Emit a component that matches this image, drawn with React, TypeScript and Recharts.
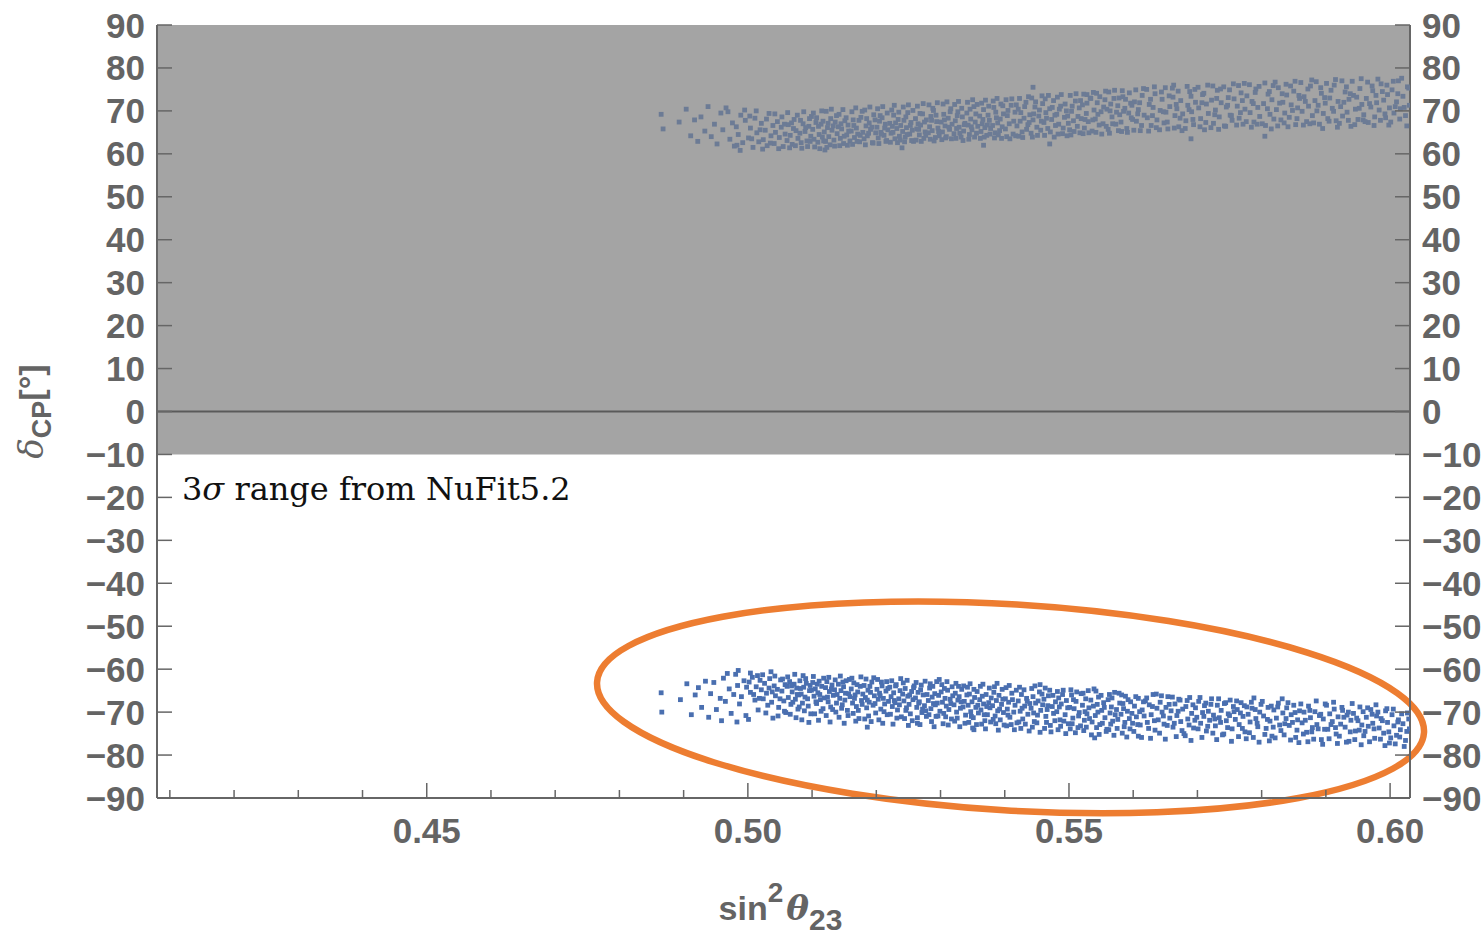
import React from 'react';
import { ScatterChart, Scatter, XAxis, YAxis, ReferenceArea, ReferenceLine } from 'recharts';

// ---------- axis ticks ----------
const xTicks = [0.41, 0.42, 0.43, 0.44, 0.45, 0.46, 0.47, 0.48, 0.49, 0.5, 0.51, 0.52, 0.53, 0.54, 0.55, 0.56, 0.57, 0.58, 0.59, 0.6];
const xLabelTicks = [0.45, 0.5, 0.55, 0.6];
const yTicks = [-90, -80, -70, -60, -50, -40, -30, -20, -10, 0, 10, 20, 30, 40, 50, 60, 70, 80, 90];
const xDomain = [0.408, 0.6031];
const yDomain = [-90, 90];

// 3-sigma excluded band (shaded) and annotation text
const shadedFrom = -10;
const shadedTo = 90;
const annotationText = 'range from NuFit5.2';

// highlight ellipse (data units)
const ellipseCenterX = 0.5409;
const ellipseCenterY = -68.9;
const ellipseHalfX = 0.0645;
const ellipseHalfY = 24.0;
const ellipseTilt = 3.5;

// ---------- scatter points: [sin^2 theta23, deltaCP] ----------
const lowerPoints = [
[.4865,-65.5],[.4866,-70.0],[.4895,-67.1],
[.4905,-63.4],[.4912,-70.6],[.4918,-66.0],
[.4923,-64.3],[.4928,-68.9],[.4934,-62.8],[.4939,-71.2],
[.4942,-65.7],[.4947,-63.1],[.4951,-69.4],[.4957,-66.8],[.4959,-72.0],
[.4962,-62.1],[.4965,-67.5],[.4971,-64.6],[.4974,-70.3],[.4978,-65.9],
[.4981,-61.2],[.4984,-63.8],[.4987,-68.1],[.4990,-66.4],[.4994,-62.7],[.4997,-70.8],[.4985,-60.3],
[.5002,-63.0],[.5004,-65.4],[.5007,-61.9],[.5011,-67.2],[.5013,-64.1],[.5016,-69.5],[.5019,-62.6],[.5004,-60.9],
[.5021,-64.8],[.5024,-66.9],[.5026,-63.3],[.5029,-65.6],[.5031,-68.4],[.5034,-62.2],[.5037,-67.7],[.5039,-71.4],
[.5041,-63.9],[.5043,-66.2],[.5046,-64.7],[.5048,-68.9],[.5051,-62.5],[.5053,-65.1],[.5056,-67.4],[.5058,-63.6],[.5059,-70.1],
[.5061,-64.0],[.5063,-66.6],[.5065,-62.9],[.5067,-68.2],[.5069,-65.3],[.5072,-63.5],[.5074,-67.0],[.5076,-64.4],[.5078,-69.3],[.5079,-66.0],
[.5081,-62.7],[.5083,-65.8],[.5085,-67.9],[.5087,-64.2],[.5089,-66.5],[.5091,-63.3],[.5094,-68.6],[.5096,-65.0],[.5098,-70.4],[.5099,-64.9],
[.5101,-63.1],[.5103,-66.3],[.5105,-64.6],[.5107,-68.0],[.5109,-65.5],[.5111,-62.8],[.5113,-67.1],[.5115,-64.0],[.5117,-69.2],[.5119,-66.7],
[.5121,-64.3],[.5123,-62.9],[.5125,-67.6],[.5127,-65.2],[.5129,-68.8],[.5131,-63.7],[.5133,-66.1],[.5135,-64.8],[.5137,-70.0],[.5139,-65.9],
[.5141,-63.5],[.5143,-66.8],[.5145,-65.0],[.5147,-68.3],[.5149,-64.1],[.5151,-67.2],[.5153,-62.7],[.5155,-69.6],[.5157,-65.7],[.5159,-66.4],
[.5161,-64.6],[.5163,-67.9],[.5165,-63.2],[.5167,-66.0],[.5169,-68.7],[.5171,-65.3],[.5173,-71.5],[.5175,-64.0],[.5177,-67.3],[.5179,-65.8],
[.5181,-63.8],[.5183,-66.6],[.5185,-69.0],[.5187,-64.9],[.5189,-67.7],[.5191,-65.4],[.5193,-63.0],[.5195,-68.4],[.5197,-66.2],[.5199,-70.2],[.5186,-73.5],
[.5201,-64.7],[.5203,-67.0],[.5205,-65.6],[.5207,-69.3],[.5209,-63.9],[.5211,-66.8],[.5213,-68.1],[.5215,-65.1],[.5217,-70.6],[.5219,-67.5],
[.5221,-64.2],[.5223,-66.4],[.5225,-68.7],[.5227,-65.5],[.5229,-67.8],[.5231,-63.6],[.5233,-69.5],[.5235,-66.9],[.5237,-65.0],[.5239,-71.1],
[.5241,-65.8],[.5243,-67.4],[.5245,-64.5],[.5247,-69.0],[.5249,-66.3],[.5251,-68.2],[.5253,-70.4],[.5255,-65.2],[.5257,-67.1],[.5259,-63.9],
[.5261,-66.7],[.5263,-68.9],[.5265,-65.4],[.5267,-67.6],[.5269,-64.8],[.5271,-70.1],[.5273,-66.0],[.5275,-68.5],[.5277,-69.7],[.5279,-65.9],[.5264,-72.6],
[.5281,-67.3],[.5283,-64.4],[.5285,-69.2],[.5287,-66.5],[.5289,-68.0],[.5291,-65.7],[.5293,-71.0],[.5295,-67.9],[.5297,-66.1],[.5299,-69.8],[.5298,-62.4],
[.5301,-65.3],[.5303,-67.7],[.5305,-70.3],[.5307,-66.8],[.5309,-68.6],[.5311,-64.9],[.5313,-69.4],[.5315,-67.0],[.5317,-71.6],[.5319,-66.2],
[.5321,-68.3],[.5323,-65.6],[.5325,-70.0],[.5327,-67.2],[.5329,-66.4],[.5331,-69.1],[.5333,-64.7],[.5335,-68.8],[.5337,-67.5],[.5339,-70.7],
[.5341,-66.0],[.5343,-68.4],[.5345,-65.8],[.5347,-69.9],[.5349,-67.6],[.5351,-71.3],[.5353,-66.6],[.5355,-68.9],[.5357,-65.2],[.5359,-70.2],[.5352,-74.1],
[.5361,-67.1],[.5363,-69.5],[.5365,-66.3],[.5367,-68.1],[.5369,-72.0],[.5371,-65.9],[.5373,-70.6],[.5375,-67.8],[.5377,-69.0],[.5379,-66.7],
[.5381,-68.5],[.5383,-65.4],[.5385,-70.9],[.5387,-67.3],[.5389,-69.7],[.5391,-66.1],[.5393,-71.8],[.5395,-68.2],[.5397,-67.0],[.5399,-73.0],
[.5401,-66.9],[.5404,-69.3],[.5406,-67.7],[.5408,-71.2],[.5411,-65.6],[.5414,-70.0],[.5416,-68.4],[.5419,-72.5],
[.5421,-67.4],[.5424,-69.8],[.5426,-65.9],[.5428,-71.6],[.5431,-68.6],[.5434,-66.8],[.5436,-70.5],[.5439,-68.0],
[.5441,-69.1],[.5444,-66.4],[.5446,-72.2],[.5448,-67.9],[.5451,-70.7],[.5454,-65.3],[.5456,-69.6],[.5459,-68.3],[.5455,-63.6],
[.5461,-67.0],[.5464,-71.0],[.5466,-69.4],[.5468,-66.2],[.5471,-73.1],[.5474,-68.7],[.5476,-70.3],[.5479,-67.6],
[.5481,-69.9],[.5484,-66.7],[.5486,-71.8],[.5488,-68.1],[.5491,-64.9],[.5494,-70.6],[.5496,-67.3],[.5499,-72.7],
[.5501,-68.9],[.5504,-66.0],[.5506,-71.4],[.5508,-69.2],[.5511,-67.5],[.5514,-73.6],[.5516,-70.1],[.5519,-65.7],
[.5521,-68.4],[.5524,-71.9],[.5526,-66.9],[.5528,-70.4],[.5531,-69.0],[.5534,-67.2],[.5536,-72.3],[.5539,-64.6],
[.5541,-70.8],[.5544,-68.2],[.5546,-66.5],[.5548,-72.9],[.5551,-69.6],[.5554,-67.8],[.5556,-71.3],[.5559,-74.0],[.5540,-76.0],
[.5561,-67.1],[.5564,-70.2],[.5566,-68.8],[.5568,-72.1],[.5571,-65.4],[.5574,-69.4],[.5576,-71.7],[.5579,-67.9],
[.5581,-70.5],[.5584,-68.0],[.5586,-73.4],[.5588,-66.3],[.5591,-69.8],[.5594,-71.5],[.5596,-67.6],[.5599,-72.6],
[.5602,-68.6],[.5605,-71.1],[.5608,-66.8],[.5611,-73.0],[.5614,-69.5],[.5617,-70.9],[.5619,-67.4],[.5608,-75.6],
[.5622,-72.4],[.5625,-68.3],[.5628,-70.6],[.5631,-65.9],[.5634,-74.2],[.5637,-69.1],[.5639,-71.8],
[.5642,-67.7],[.5645,-70.0],[.5648,-72.8],[.5651,-68.9],[.5654,-66.4],[.5657,-71.4],[.5659,-69.7],
[.5662,-73.5],[.5665,-68.1],[.5668,-70.8],[.5671,-67.0],[.5674,-72.2],[.5677,-69.3],[.5679,-75.0],
[.5682,-68.7],[.5685,-71.6],[.5688,-66.6],[.5691,-70.3],[.5694,-73.7],[.5697,-69.0],[.5699,-71.2],
[.5702,-67.5],[.5705,-72.6],[.5708,-70.1],[.5711,-68.5],[.5714,-74.4],[.5717,-69.8],[.5719,-71.9],
[.5722,-66.9],[.5725,-70.7],[.5728,-73.2],[.5731,-68.4],[.5734,-71.3],[.5737,-69.6],[.5739,-75.3],
[.5742,-68.0],[.5745,-72.0],[.5748,-70.4],[.5751,-67.2],[.5754,-73.9],[.5757,-69.9],[.5759,-71.7],
[.5762,-69.4],[.5765,-72.9],[.5768,-67.8],[.5771,-71.0],[.5774,-74.6],[.5777,-68.8],[.5779,-70.5],
[.5782,-72.3],[.5785,-69.1],[.5788,-66.7],[.5791,-71.5],[.5794,-73.4],[.5797,-70.0],[.5799,-68.2],
[.5803,-70.9],[.5807,-73.8],[.5810,-68.9],[.5813,-72.1],[.5816,-75.6],[.5819,-69.5],
[.5823,-71.4],[.5826,-67.9],[.5830,-74.3],[.5833,-70.2],[.5836,-72.7],[.5839,-69.0],
[.5843,-73.1],[.5846,-70.6],[.5850,-68.4],[.5853,-75.9],[.5856,-71.8],[.5859,-69.7],
[.5863,-72.5],[.5866,-70.0],[.5870,-74.7],[.5873,-68.6],[.5876,-71.3],[.5879,-73.6],
[.5883,-69.9],[.5886,-72.9],[.5890,-70.8],[.5893,-76.4],[.5896,-71.6],[.5899,-68.1],
[.5903,-74.0],[.5906,-70.4],[.5910,-72.2],[.5913,-69.3],[.5916,-75.1],[.5919,-71.1],
[.5923,-72.8],[.5926,-69.6],[.5930,-73.5],[.5933,-70.7],[.5936,-76.8],[.5939,-71.9],
[.5943,-70.3],[.5946,-74.4],[.5950,-72.0],[.5953,-68.8],[.5956,-73.0],[.5959,-75.5],
[.5963,-71.2],[.5966,-73.3],[.5970,-69.4],[.5973,-72.6],[.5976,-76.1],[.5979,-70.9],
[.5983,-73.7],[.5986,-71.5],[.5990,-74.9],[.5993,-69.7],[.5996,-72.4],[.5999,-77.2],
[.6003,-70.6],[.6006,-73.2],[.6010,-75.4],[.6013,-71.8],[.6016,-74.1],[.6020,-72.7],[.6024,-76.6],[.6027,-70.2],[.6030,-73.9]
];

const lowerFill = [
[.4968,-61.0],[.4983,-72.3],[.4998,-64.2],[.5001,-71.7],[.5009,-65.9],[.5015,-61.5],[.5018,-66.8],[.5023,-61.3],[.5028,-70.2],[.5033,-64.4],[.5036,-60.6],[.5038,-65.3],
[.5042,-61.6],[.5047,-70.9],[.5050,-66.9],[.5054,-62.3],[.5057,-69.8],
[.5062,-61.8],[.5066,-70.5],[.5068,-63.9],[.5070,-67.7],[.5073,-61.2],[.5075,-71.3],[.5077,-65.9],[.5080,-68.8],
[.5082,-64.5],[.5084,-71.8],[.5086,-61.5],[.5088,-69.7],[.5090,-62.2],[.5093,-66.9],[.5095,-72.4],[.5097,-63.8],
[.5102,-61.7],[.5104,-70.4],[.5106,-67.6],[.5108,-63.5],[.5110,-71.9],[.5112,-65.9],[.5114,-69.8],[.5118,-62.1],
[.5122,-70.8],[.5124,-66.5],[.5126,-61.9],[.5128,-72.3],[.5130,-64.6],[.5132,-69.4],[.5136,-62.5],[.5138,-67.9],
[.5142,-71.2],[.5144,-61.6],[.5146,-69.1],[.5148,-63.0],[.5150,-72.6],[.5152,-65.6],[.5156,-70.8],[.5158,-62.4],
[.5162,-62.1],[.5164,-70.3],[.5166,-66.8],[.5168,-72.1],[.5170,-63.6],[.5172,-69.6],[.5176,-61.8],[.5178,-68.2],
[.5182,-71.6],[.5184,-62.3],[.5186,-67.2],[.5188,-70.9],[.5190,-64.0],[.5192,-72.2],[.5196,-62.0],[.5198,-68.0],
[.5202,-62.4],[.5204,-71.8],[.5206,-66.2],[.5208,-63.0],[.5210,-72.6],[.5212,-69.9],[.5216,-62.9],[.5218,-64.5],
[.5222,-70.5],[.5224,-62.7],[.5226,-72.8],[.5228,-67.3],[.5230,-63.9],[.5232,-71.4],[.5236,-68.3],[.5238,-62.2],
[.5242,-63.2],[.5244,-71.5],[.5246,-69.6],[.5248,-62.6],[.5250,-73.1],[.5252,-66.0],[.5256,-72.0],[.5258,-64.3],
[.5262,-63.1],[.5264,-71.3],[.5266,-67.9],[.5268,-72.9],[.5270,-63.7],[.5272,-69.3],[.5276,-62.8],[.5278,-71.0],
[.5282,-70.6],[.5284,-63.4],[.5286,-72.2],[.5288,-64.0],[.5290,-73.4],[.5292,-68.3],[.5294,-62.9],[.5296,-70.9],
[.5302,-63.6],[.5304,-72.7],[.5306,-64.5],[.5308,-71.1],[.5310,-62.9],[.5312,-73.0],[.5316,-68.0],[.5318,-64.1],
[.5322,-72.1],[.5324,-63.3],[.5326,-71.4],[.5328,-64.0],[.5330,-73.4],[.5332,-67.6],[.5336,-63.9],[.5338,-72.6],
[.5342,-64.2],[.5344,-72.4],[.5346,-63.4],[.5348,-71.0],[.5350,-73.7],[.5352,-64.7],[.5356,-72.9],[.5358,-68.4],
[.5362,-64.0],[.5364,-72.8],[.5366,-63.5],[.5368,-70.6],[.5370,-73.9],[.5372,-68.7],[.5376,-64.4],[.5378,-72.3],
[.5382,-71.7],[.5384,-64.1],[.5386,-72.7],[.5388,-63.3],[.5390,-74.2],[.5392,-69.3],[.5396,-64.7],[.5398,-70.1],
[.5402,-64.3],[.5403,-73.2],[.5405,-70.7],[.5407,-63.8],[.5410,-72.9],[.5412,-67.1],[.5415,-74.1],[.5418,-64.9],
[.5422,-72.3],[.5423,-64.2],[.5425,-73.8],[.5427,-69.1],[.5430,-64.8],[.5432,-72.8],[.5435,-67.5],[.5438,-74.4],
[.5442,-64.5],[.5443,-73.5],[.5445,-70.2],[.5447,-63.9],[.5450,-72.5],[.5452,-67.4],[.5455,-74.7],[.5458,-65.8],
[.5462,-73.8],[.5463,-64.4],[.5465,-72.4],[.5467,-68.5],[.5470,-64.9],[.5472,-74.6],[.5475,-66.1],[.5478,-72.0],
[.5482,-65.2],[.5483,-74.1],[.5485,-68.8],[.5487,-73.3],[.5490,-65.9],[.5492,-72.1],[.5495,-75.0],[.5498,-69.0],
[.5502,-73.9],[.5503,-64.8],[.5505,-72.7],[.5507,-67.1],[.5510,-74.8],[.5512,-65.3],[.5515,-70.9],[.5518,-73.2],
[.5522,-65.6],[.5523,-74.3],[.5525,-69.9],[.5527,-73.5],[.5530,-65.0],[.5532,-71.5],[.5535,-75.3],[.5538,-68.6],
[.5542,-65.1],[.5543,-73.6],[.5545,-70.0],[.5547,-75.2],[.5550,-66.1],[.5552,-72.6],[.5555,-68.9],[.5558,-74.5],
[.5562,-74.1],[.5563,-65.9],[.5565,-72.8],[.5567,-66.7],[.5570,-75.4],[.5572,-70.6],[.5575,-73.8],[.5578,-65.6],
[.5582,-66.0],[.5583,-74.9],[.5585,-69.2],[.5587,-72.4],[.5590,-75.8],[.5592,-67.1],[.5595,-73.9],[.5598,-70.3],
[.5601,-74.5],[.5604,-66.4],[.5607,-72.9],[.5610,-69.9],[.5613,-75.9],[.5616,-67.6],
[.5621,-66.7],[.5624,-73.8],[.5627,-76.1],[.5630,-68.7],[.5633,-72.0],[.5636,-65.8],
[.5641,-74.9],[.5644,-66.2],[.5647,-70.9],[.5650,-76.3],[.5653,-73.1],[.5656,-68.2],
[.5661,-66.5],[.5664,-72.6],[.5667,-75.7],[.5670,-69.8],[.5673,-67.2],[.5676,-74.3],
[.5681,-75.5],[.5684,-67.3],[.5687,-73.0],[.5690,-76.6],[.5693,-68.3],[.5696,-71.9],
[.5701,-73.9],[.5704,-66.6],[.5707,-75.9],[.5710,-71.0],[.5713,-67.9],[.5716,-73.3],
[.5721,-68.2],[.5724,-74.9],[.5727,-71.6],[.5730,-76.4],[.5733,-66.9],[.5736,-72.4],
[.5741,-75.1],[.5744,-67.8],[.5747,-73.6],[.5750,-70.8],[.5753,-76.8],[.5756,-68.7],
[.5761,-67.4],[.5764,-75.7],[.5767,-70.2],[.5770,-73.8],[.5773,-68.5],[.5776,-76.2],
[.5781,-74.8],[.5784,-67.7],[.5787,-75.9],[.5790,-69.4],[.5793,-72.6],[.5796,-77.0],
[.5801,-67.5],[.5805,-75.2],[.5809,-71.7],[.5812,-76.7],[.5815,-68.6],[.5818,-73.5],
[.5821,-76.0],[.5825,-68.8],[.5828,-73.0],[.5832,-66.9],[.5835,-75.3],[.5838,-71.5],
[.5841,-67.8],[.5845,-76.5],[.5848,-72.4],[.5852,-70.1],[.5855,-74.2],[.5858,-77.1],
[.5861,-68.1],[.5865,-75.1],[.5868,-71.9],[.5872,-76.9],[.5875,-69.6],[.5878,-74.6],
[.5881,-76.3],[.5885,-67.4],[.5888,-73.9],[.5892,-70.5],[.5895,-77.5],[.5898,-74.0],
[.5901,-68.4],[.5905,-76.2],[.5908,-72.9],[.5912,-67.7],[.5915,-73.6],[.5918,-77.3],
[.5921,-75.6],[.5925,-68.9],[.5928,-71.2],[.5932,-77.0],[.5935,-70.0],[.5938,-74.6],
[.5941,-68.0],[.5945,-76.4],[.5948,-71.4],[.5952,-74.2],[.5955,-77.6],[.5958,-69.9],
[.5961,-74.5],[.5965,-69.0],[.5968,-76.9],[.5972,-70.5],[.5975,-73.9],[.5978,-68.3],
[.5981,-70.0],[.5985,-76.3],[.5988,-72.0],[.5992,-77.8],[.5995,-69.2],[.5998,-74.6],
[.6001,-76.0],[.6005,-69.3],[.6008,-77.4],[.6012,-72.3],[.6015,-75.8],[.6018,-70.4],[.6022,-78.0],[.6026,-74.5],[.6029,-71.6]
];

const upperPoints = [
[.4865,69.2],[.4868,65.8],[.4893,67.4],
[.4904,70.4],[.4911,64.2],[.4917,67.9],
[.4922,62.9],[.4927,68.6],[.4933,65.3],[.4938,71.0],
[.4943,64.0],[.4948,66.9],[.4952,62.3],[.4958,69.5],
[.4961,65.6],[.4966,70.7],[.4972,63.4],[.4976,67.2],[.4979,61.8],
[.4982,66.3],[.4985,64.5],[.4989,69.0],[.4992,62.6],[.4996,67.8],[.4988,60.8],
[.5001,63.7],[.5004,66.0],[.5008,61.5],[.5011,68.3],[.5014,64.9],[.5017,62.8],
[.5021,67.1],[.5024,63.3],[.5027,65.5],[.5030,61.9],[.5033,69.4],[.5036,64.2],[.5039,66.6],
[.5041,62.4],[.5043,65.0],[.5046,67.5],[.5049,63.8],[.5052,66.2],[.5055,61.7],[.5058,64.6],
[.5061,63.1],[.5063,66.8],[.5066,64.3],[.5069,62.2],[.5072,68.0],[.5075,65.4],[.5078,63.6],
[.5081,64.8],[.5083,62.6],[.5086,67.0],[.5089,65.2],[.5092,63.0],[.5095,66.4],[.5098,64.1],[.5099,68.7],
[.5101,65.7],[.5103,63.4],[.5106,67.3],[.5109,62.7],[.5111,64.5],[.5114,66.9],[.5116,63.9],[.5119,65.1],[.5120,60.9],
[.5121,62.9],[.5124,66.1],[.5126,64.0],[.5129,68.2],[.5131,65.5],[.5134,63.2],[.5136,67.4],[.5139,64.7],
[.5141,66.3],[.5144,63.6],[.5146,65.8],[.5149,62.4],[.5151,67.7],[.5154,64.4],[.5156,66.7],[.5159,63.0],
[.5161,65.3],[.5164,67.9],[.5166,63.8],[.5169,66.0],[.5171,64.6],[.5174,62.8],[.5176,68.5],[.5179,65.0],
[.5181,63.5],[.5184,66.5],[.5186,64.2],[.5189,67.2],[.5191,65.7],[.5194,62.6],[.5196,69.1],[.5199,64.9],
[.5201,66.2],[.5203,63.7],[.5205,67.6],[.5207,65.0],[.5209,68.4],[.5212,64.3],[.5214,66.9],[.5216,63.1],[.5218,65.6],
[.5221,67.1],[.5223,64.8],[.5225,66.4],[.5227,69.0],[.5229,63.5],[.5232,65.9],[.5234,68.0],[.5236,64.1],[.5238,66.6],
[.5241,65.2],[.5243,67.8],[.5245,63.9],[.5247,66.1],[.5249,69.6],[.5252,64.6],[.5254,67.3],[.5256,65.5],[.5258,62.9],[.5240,61.4],
[.5261,68.2],[.5263,65.8],[.5265,67.0],[.5267,64.4],[.5269,66.7],[.5272,69.3],[.5274,63.6],[.5276,65.1],[.5278,67.9],
[.5281,64.9],[.5283,66.3],[.5285,68.7],[.5287,65.4],[.5289,70.1],[.5292,63.8],[.5294,67.5],[.5296,66.0],[.5298,64.2],
[.5301,67.4],[.5303,65.1],[.5305,69.2],[.5307,66.5],[.5309,64.0],[.5312,68.3],[.5314,65.7],[.5316,70.5],[.5318,66.9],
[.5321,64.7],[.5323,67.7],[.5325,65.9],[.5327,69.8],[.5329,66.2],[.5332,63.9],[.5334,68.6],[.5336,65.3],[.5338,67.1],
[.5341,69.5],[.5343,66.7],[.5345,64.5],[.5347,68.1],[.5349,65.6],[.5352,71.0],[.5354,67.4],[.5356,64.8],[.5358,66.4],
[.5361,68.8],[.5363,65.2],[.5365,67.0],[.5367,70.3],[.5369,66.1],[.5372,64.3],[.5374,69.0],[.5376,67.8],[.5378,65.9],[.5367,62.0],
[.5381,66.6],[.5383,70.8],[.5385,64.9],[.5387,68.4],[.5389,67.2],[.5392,65.4],[.5394,71.6],[.5396,66.3],[.5398,69.3],
[.5401,65.8],[.5404,68.9],[.5407,67.0],[.5410,71.3],[.5413,64.6],[.5416,69.7],[.5419,66.5],
[.5421,70.4],[.5424,67.6],[.5427,65.1],[.5430,68.3],[.5433,72.0],[.5436,66.8],[.5439,69.1],
[.5441,64.8],[.5444,67.9],[.5447,70.9],[.5450,66.2],[.5453,68.8],[.5456,65.5],[.5459,71.7],[.5444,75.5],
[.5461,67.3],[.5464,69.6],[.5467,65.9],[.5470,70.5],[.5473,68.0],[.5476,72.4],[.5479,66.6],[.5470,62.3],
[.5481,69.2],[.5484,66.9],[.5487,71.1],[.5490,64.7],[.5493,68.5],[.5496,70.0],[.5499,67.1],
[.5501,65.6],[.5504,69.9],[.5507,67.7],[.5510,72.3],[.5513,66.4],[.5516,70.7],[.5519,68.2],
[.5521,71.4],[.5524,66.0],[.5527,69.4],[.5530,67.5],[.5533,73.0],[.5536,65.3],[.5539,70.2],[.5528,73.8],
[.5541,68.1],[.5544,71.9],[.5547,66.7],[.5550,69.8],[.5553,67.0],[.5556,72.6],[.5559,70.4],
[.5561,65.7],[.5564,70.0],[.5567,68.6],[.5570,72.9],[.5573,66.9],[.5576,71.2],[.5579,69.1],
[.5581,67.4],[.5584,73.3],[.5587,70.6],[.5590,65.9],[.5593,69.5],[.5596,71.8],[.5599,68.0],
[.5602,72.1],[.5605,67.6],[.5608,70.3],[.5611,65.4],[.5614,73.6],[.5617,69.0],
[.5622,68.4],[.5625,71.5],[.5628,66.6],[.5631,70.8],[.5634,74.0],[.5637,67.9],
[.5642,70.1],[.5645,72.7],[.5648,67.2],[.5651,69.7],[.5654,65.8],[.5657,71.0],
[.5662,73.2],[.5665,68.9],[.5668,70.5],[.5671,66.3],[.5674,72.4],[.5677,69.3],[.5663,76.0],
[.5682,67.7],[.5685,71.3],[.5688,74.5],[.5691,69.8],[.5694,66.8],[.5697,72.0],[.5690,63.5],
[.5702,70.7],[.5705,68.2],[.5708,73.8],[.5711,65.6],[.5714,71.6],[.5717,69.4],
[.5722,72.5],[.5725,67.1],[.5728,70.2],[.5731,74.8],[.5734,68.6],[.5737,71.9],
[.5742,66.5],[.5745,70.9],[.5748,73.1],[.5751,69.0],[.5754,67.8],[.5757,72.8],
[.5762,71.1],[.5765,68.3],[.5768,74.2],[.5771,66.9],[.5774,70.4],[.5777,73.5],
[.5782,69.6],[.5785,72.2],[.5788,67.4],[.5791,75.1],[.5794,70.8],[.5797,68.7],
[.5803,71.7],[.5806,66.6],[.5810,73.9],[.5813,69.2],[.5816,72.6],[.5819,68.1],[.5805,64.1],
[.5823,70.3],[.5826,75.4],[.5830,67.9],[.5833,72.0],[.5836,69.5],[.5839,73.7],
[.5843,68.5],[.5846,71.4],[.5850,74.6],[.5853,66.8],[.5856,70.7],[.5859,72.9],
[.5863,69.9],[.5866,73.3],[.5870,67.5],[.5873,71.1],[.5876,75.8],[.5879,68.9],
[.5883,72.4],[.5886,70.0],[.5890,66.9],[.5893,74.1],[.5896,69.4],[.5899,71.8],
[.5903,68.2],[.5906,73.0],[.5910,70.6],[.5913,76.0],[.5916,67.7],[.5919,72.2],
[.5923,71.0],[.5926,68.8],[.5930,74.4],[.5933,69.7],[.5936,72.7],[.5939,66.4],
[.5943,73.6],[.5946,70.4],[.5950,68.0],[.5953,75.2],[.5956,71.5],[.5959,69.1],
[.5963,72.9],[.5966,67.3],[.5970,70.9],[.5973,74.7],[.5976,68.6],[.5979,71.9],
[.5983,70.2],[.5986,76.3],[.5990,72.5],[.5993,68.4],[.5996,73.8],[.5999,70.7],
[.6003,74.9],[.6006,69.5],[.6010,72.1],[.6013,77.0],[.6016,70.5],[.6020,73.4],[.6024,68.9],[.6027,75.6],[.6030,71.3]
];

const upperFill = [
[.4969,69.8],[.4983,62.0],[.4995,70.2],[.5003,68.8],[.5006,63.5],[.5013,70.0],[.5019,65.6],[.5023,61.1],[.5029,68.1],[.5035,62.5],
[.5042,69.3],[.5048,61.2],[.5053,68.6],[.5057,66.9],
[.5062,69.6],[.5065,61.4],[.5068,67.2],[.5071,65.9],[.5074,61.9],[.5077,69.0],
[.5082,67.8],[.5084,61.3],[.5087,69.8],[.5090,66.1],[.5093,61.7],[.5096,68.2],[.5097,62.9],
[.5102,69.5],[.5104,61.6],[.5107,68.4],[.5110,66.4],[.5112,61.2],[.5115,70.0],[.5117,67.6],[.5118,63.0],
[.5122,69.9],[.5123,61.5],[.5125,67.1],[.5128,62.1],[.5130,70.4],[.5133,66.5],[.5135,61.8],[.5138,68.9],
[.5142,69.2],[.5143,61.9],[.5145,67.0],[.5148,70.3],[.5150,64.1],[.5153,68.4],[.5155,62.0],[.5157,65.3],
[.5162,69.8],[.5163,62.2],[.5165,66.6],[.5168,70.7],[.5170,62.9],[.5173,67.8],[.5175,64.3],[.5178,69.9],
[.5182,70.2],[.5183,62.1],[.5185,68.2],[.5188,64.8],[.5190,70.9],[.5193,66.2],[.5195,62.5],[.5198,67.9],
[.5202,70.5],[.5204,62.4],[.5206,68.9],[.5208,64.6],[.5210,71.0],[.5213,66.0],[.5215,62.9],[.5217,69.5],
[.5222,62.7],[.5224,70.2],[.5226,65.0],[.5228,71.3],[.5230,67.2],[.5233,62.6],[.5235,69.7],[.5237,63.2],
[.5242,70.9],[.5244,62.8],[.5246,68.6],[.5248,64.5],[.5250,71.4],[.5253,66.6],[.5255,63.1],[.5257,70.1],
[.5262,63.2],[.5264,71.1],[.5266,65.7],[.5268,69.4],[.5270,62.9],[.5273,71.7],[.5275,67.4],[.5277,64.3],
[.5282,71.4],[.5284,63.4],[.5286,67.8],[.5288,70.6],[.5290,63.0],[.5293,69.0],[.5295,71.9],[.5297,65.2],
[.5302,63.3],[.5304,71.6],[.5306,67.9],[.5308,63.7],[.5310,72.1],[.5313,66.2],[.5315,69.8],[.5317,63.5],
[.5322,71.5],[.5324,63.6],[.5326,68.9],[.5328,72.2],[.5330,64.8],[.5333,70.6],[.5335,63.1],[.5337,66.8],
[.5342,72.0],[.5344,63.4],[.5346,70.4],[.5348,66.3],[.5350,72.6],[.5353,63.9],[.5355,69.3],[.5357,71.5],
[.5362,63.6],[.5364,71.8],[.5366,68.0],[.5368,63.9],[.5370,72.5],[.5373,66.7],[.5375,71.1],[.5377,64.6],
[.5382,72.3],[.5384,63.7],[.5386,69.7],[.5388,72.9],[.5390,64.4],[.5393,68.1],[.5395,63.6],[.5397,71.2],
[.5402,72.6],[.5403,64.0],[.5405,70.1],[.5408,63.5],[.5411,72.8],[.5414,67.6],[.5417,64.2],[.5418,71.4],
[.5422,64.1],[.5423,72.9],[.5425,69.6],[.5428,63.8],[.5431,71.0],[.5434,65.7],[.5437,73.3],[.5438,67.3],
[.5442,73.0],[.5443,63.9],[.5445,69.3],[.5448,72.1],[.5451,64.3],[.5454,70.2],[.5457,67.6],[.5458,73.5],
[.5462,64.3],[.5463,72.8],[.5465,68.3],[.5468,73.6],[.5471,65.1],[.5474,70.8],[.5477,63.9],[.5478,69.0],
[.5482,73.2],[.5483,64.6],[.5485,70.4],[.5488,73.8],[.5491,66.0],[.5494,71.6],[.5497,64.2],[.5498,68.8],
[.5502,73.6],[.5503,64.4],[.5505,71.1],[.5508,65.2],[.5511,74.0],[.5514,68.7],[.5517,64.9],[.5518,72.4],
[.5522,64.7],[.5523,73.9],[.5525,68.0],[.5528,71.8],[.5531,64.9],[.5534,72.9],[.5537,67.9],[.5538,74.3],
[.5542,65.0],[.5543,74.1],[.5545,69.2],[.5548,73.3],[.5551,64.6],[.5554,70.9],[.5557,74.6],[.5558,66.4],
[.5562,74.4],[.5563,64.8],[.5565,71.6],[.5568,67.0],[.5571,74.8],[.5574,69.7],[.5577,65.4],[.5578,73.0],
[.5582,65.2],[.5583,74.7],[.5585,69.9],[.5588,72.7],[.5591,65.0],[.5594,74.2],[.5597,68.4],[.5598,71.3],
[.5601,65.5],[.5604,74.9],[.5607,69.3],[.5610,71.9],[.5613,66.6],[.5616,75.2],
[.5621,75.0],[.5624,65.3],[.5627,72.7],[.5630,68.9],[.5633,75.6],[.5636,66.1],
[.5641,65.6],[.5644,74.4],[.5647,69.8],[.5650,75.4],[.5653,67.4],[.5656,73.5],
[.5661,75.3],[.5664,66.0],[.5667,71.5],[.5670,74.6],[.5673,68.3],[.5676,65.4],
[.5681,65.9],[.5684,75.7],[.5687,70.3],[.5690,73.4],[.5693,68.0],[.5696,75.0],
[.5701,75.5],[.5704,66.3],[.5707,71.9],[.5710,74.1],[.5713,67.3],[.5716,76.0],
[.5721,66.1],[.5724,75.8],[.5727,69.1],[.5730,72.9],[.5733,65.7],[.5736,75.1],
[.5741,75.6],[.5744,66.4],[.5747,71.3],[.5750,74.9],[.5753,68.9],[.5756,76.3],
[.5761,66.7],[.5764,75.9],[.5767,69.6],[.5770,72.4],[.5773,76.4],[.5776,67.5],
[.5781,76.1],[.5784,66.2],[.5787,71.7],[.5790,74.3],[.5793,66.9],[.5796,75.7],
[.5801,67.0],[.5805,76.5],[.5809,70.5],[.5812,74.5],[.5815,65.8],[.5818,75.9],
[.5821,76.7],[.5825,66.5],[.5828,71.8],[.5832,74.0],[.5835,67.2],[.5838,76.2],
[.5841,66.3],[.5845,75.8],[.5848,70.1],[.5852,76.9],[.5855,68.2],[.5858,73.6],
[.5861,76.6],[.5865,66.7],[.5868,72.2],[.5872,75.1],[.5875,67.0],[.5878,77.2],
[.5881,67.2],[.5885,76.8],[.5888,71.3],[.5892,75.4],[.5895,65.9],[.5898,73.1],
[.5901,76.4],[.5905,67.6],[.5908,74.8],[.5912,69.9],[.5915,77.3],[.5918,66.2],
[.5921,67.1],[.5925,77.0],[.5928,72.0],[.5932,75.6],[.5935,67.8],[.5938,74.0],
[.5941,76.9],[.5945,66.8],[.5948,73.2],[.5952,70.6],[.5955,77.5],[.5958,67.9],
[.5961,67.5],[.5965,76.7],[.5968,71.7],[.5972,75.8],[.5975,66.6],[.5978,73.6],
[.5981,77.4],[.5985,67.8],[.5988,74.5],[.5992,69.3],[.5995,76.0],[.5998,66.7],
[.6001,67.4],[.6005,76.9],[.6008,71.0],[.6012,74.0],[.6015,68.1],[.6018,77.6],[.6022,70.8],[.6026,66.5],[.6029,75.3]
];

const lowerData = [...lowerPoints, ...lowerFill].map(([x, y]) => ({ x, y }));
const upperData = [...upperPoints, ...upperFill].map(([x, y]) => ({ x, y }));

// ---------- styling ----------
const AXIS_COLOR = '#666666';
const LABEL_COLOR = '#646464';
const LABEL_FONT = '"Liberation Sans", Arial, sans-serif';
const LABEL_SIZE = 35;
const TICK_LEN = 15;
const MINOR_LEN = 8;

const fmtNum = (v: number) => String(v).replace('-', '\u2212');
const isMajorX = (v: number) => xLabelTicks.some((t) => Math.abs(t - v) < 1e-9);

const BottomTick = (props: any) => {
  const { x, y, payload } = props;
  const v = payload.value;
  const major = isMajorX(v);
  return (
    <g>
      <line x1={x} x2={x} y1={y} y2={y - (major ? TICK_LEN : MINOR_LEN)} stroke={AXIS_COLOR} strokeWidth={1.5} />
      {major && (
        <text x={x} y={y + 45} textAnchor="middle" fill={LABEL_COLOR} fontFamily={LABEL_FONT} fontWeight="bold" fontSize={LABEL_SIZE}>
          {v.toFixed(2)}
        </text>
      )}
    </g>
  );
};

const TopTick = (props: any) => {
  const { x, y, payload } = props;
  const major = isMajorX(payload.value);
  return <line x1={x} x2={x} y1={y} y2={y + (major ? TICK_LEN : MINOR_LEN)} stroke={AXIS_COLOR} strokeWidth={1.5} />;
};

const LeftTick = (props: any) => {
  const { x, y, payload } = props;
  return (
    <g>
      <line x1={x} x2={x + TICK_LEN} y1={y} y2={y} stroke={AXIS_COLOR} strokeWidth={1.5} />
      <text x={x - 12} y={y + 12.5} textAnchor="end" fill={LABEL_COLOR} fontFamily={LABEL_FONT} fontWeight="bold" fontSize={LABEL_SIZE}>
        {fmtNum(payload.value)}
      </text>
    </g>
  );
};

const RightTick = (props: any) => {
  const { x, y, payload } = props;
  return (
    <g>
      <line x1={x} x2={x - TICK_LEN} y1={y} y2={y} stroke={AXIS_COLOR} strokeWidth={1.5} />
      <text x={x + 12} y={y + 12.5} textAnchor="start" fill={LABEL_COLOR} fontFamily={LABEL_FONT} fontWeight="bold" fontSize={LABEL_SIZE}>
        {fmtNum(payload.value)}
      </text>
    </g>
  );
};

const YTitle = (props: any) => {
  const vb = props.viewBox || {};
  const bx = vb.x + 43;
  const cy = vb.y + vb.height / 2;
  return (
    <text transform={`rotate(-90 ${bx} ${cy})`} x={bx} y={cy} textAnchor="middle" fill={LABEL_COLOR} fontFamily={LABEL_FONT} fontWeight="bold" fontSize={34}>
      <tspan fontStyle="italic" fontWeight="normal" fontFamily='"DejaVu Serif", serif'>δ</tspan>
      <tspan fontSize={27} dy={8}>CP</tspan>
      <tspan dy={-8}>[°]</tspan>
    </text>
  );
};

const XTitle = (props: any) => {
  const vb = props.viewBox || {};
  const cx = vb.x + vb.width / 2 - 3;
  const by = vb.y + 122;
  return (
    <text x={cx} y={by} textAnchor="middle" fill={LABEL_COLOR} fontFamily={LABEL_FONT} fontWeight="bold" fontSize={34}>
      <tspan>sin</tspan>
      <tspan fontSize={28} dy={-18}>2</tspan>
      <tspan dy={18} fontStyle="italic" fontWeight="bold" fontFamily='"DejaVu Serif", serif' dx={3}>θ</tspan>
      <tspan fontSize={30} dy={10}>23</tspan>
    </text>
  );
};

const Annotation = (props: any) => {
  const vb = props.viewBox || {};
  return (
    <text x={vb.x + 25} y={vb.y + vb.height + 46} fill="#111" fontFamily='"DejaVu Serif", serif' fontSize={32}>
      3<tspan fontStyle="italic">σ</tspan> {annotationText}
    </text>
  );
};

const EllipseShape = (props: any) => {
  const { x, y, width, height } = props;
  const cx = x + width / 2;
  const cy = y + height / 2;
  return (
    <ellipse
      cx={cx}
      cy={cy}
      rx={Math.abs(width) / 2}
      ry={Math.abs(height) / 2}
      transform={`rotate(${ellipseTilt} ${cx} ${cy})`}
      fill="none"
      stroke="#ED7D31"
      strokeWidth={6.5}
    />
  );
};

const Square = (color: string) => (props: any) => {
  const { cx, cy } = props;
  if (cx == null || cy == null) return null;
  return <rect x={cx - 2.4} y={cy - 2.4} width={4.8} height={4.8} fill={color} />;
};

export default function App() {
  return (
    <div style={{ width: 1482, height: 940, overflow: 'hidden' }}>
      <style>{'html,body{margin:0;padding:0;overflow:hidden;}'}</style>
      <ScatterChart width={1482} height={940} margin={{ top: 25, right: 0, bottom: 0, left: 0 }}>
        <XAxis
          type="number"
          dataKey="x"
          domain={xDomain}
          allowDataOverflow
          ticks={xTicks}
          interval={0}
          tickSize={0}
          tickMargin={0}
          tickLine={false}
          tick={BottomTick}
          height={142}
          axisLine={{ stroke: AXIS_COLOR, strokeWidth: 2 }}
          label={{ content: XTitle }}
        />
        <XAxis
          xAxisId="top"
          orientation="top"
          type="number"
          dataKey="x"
          domain={xDomain}
          allowDataOverflow
          ticks={xTicks}
          interval={0}
          tickSize={0}
          tickMargin={0}
          tickLine={false}
          tick={TopTick}
          height={0}
          axisLine={{ stroke: AXIS_COLOR, strokeWidth: 2 }}
        />
        <YAxis
          type="number"
          dataKey="y"
          domain={yDomain}
          allowDataOverflow
          ticks={yTicks}
          interval={0}
          tickSize={0}
          tickMargin={0}
          tickLine={false}
          tick={LeftTick}
          width={157}
          axisLine={{ stroke: AXIS_COLOR, strokeWidth: 2 }}
          label={{ content: YTitle }}
        />
        <YAxis
          yAxisId="right"
          orientation="right"
          type="number"
          dataKey="y"
          domain={yDomain}
          allowDataOverflow
          ticks={yTicks}
          interval={0}
          tickSize={0}
          tickMargin={0}
          tickLine={false}
          tick={RightTick}
          width={72}
          axisLine={{ stroke: AXIS_COLOR, strokeWidth: 2 }}
        />
        <ReferenceArea
          y1={shadedFrom}
          y2={shadedTo}
          fill="#a4a4a4"
          fillOpacity={1}
          stroke="none"
          label={{ content: Annotation }}
        />
        <ReferenceLine y={0} stroke="#5a5a5a" strokeWidth={2} />
        <Scatter data={upperData} shape={Square('#6c7b95')} isAnimationActive={false} />
        <Scatter data={lowerData} shape={Square('#4a6fb0')} isAnimationActive={false} />
        <ReferenceArea
          x1={ellipseCenterX - ellipseHalfX}
          x2={ellipseCenterX + ellipseHalfX}
          y1={ellipseCenterY - ellipseHalfY}
          y2={ellipseCenterY + ellipseHalfY}
          ifOverflow="visible"
          shape={EllipseShape}
        />
      </ScatterChart>
    </div>
  );
}
